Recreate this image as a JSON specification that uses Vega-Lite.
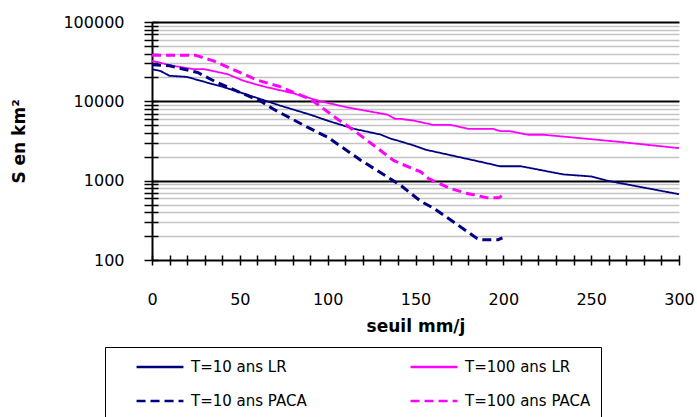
{
  "$schema": "https://vega.github.io/schema/vega-lite/v6.json",
  "width": 527,
  "height": 238,
  "autosize": {"type": "none"},
  "padding": {"left": 152, "top": 22, "right": 18, "bottom": 157},
  "background": "white",
  "data": {
    "values": [
      {"s": "T=10 ans LR", "x": 0, "y": 25500},
      {"s": "T=10 ans LR", "x": 5, "y": 24000},
      {"s": "T=10 ans LR", "x": 10, "y": 21000},
      {"s": "T=10 ans LR", "x": 20, "y": 20300},
      {"s": "T=10 ans LR", "x": 29, "y": 17800},
      {"s": "T=10 ans LR", "x": 40, "y": 15300},
      {"s": "T=10 ans LR", "x": 50, "y": 13000},
      {"s": "T=10 ans LR", "x": 60, "y": 11000},
      {"s": "T=10 ans LR", "x": 73, "y": 8830},
      {"s": "T=10 ans LR", "x": 90, "y": 6800},
      {"s": "T=10 ans LR", "x": 100, "y": 5700},
      {"s": "T=10 ans LR", "x": 115, "y": 4500},
      {"s": "T=10 ans LR", "x": 130, "y": 3820},
      {"s": "T=10 ans LR", "x": 136, "y": 3380},
      {"s": "T=10 ans LR", "x": 141.5, "y": 3120},
      {"s": "T=10 ans LR", "x": 149, "y": 2780},
      {"s": "T=10 ans LR", "x": 156, "y": 2450},
      {"s": "T=10 ans LR", "x": 189, "y": 1690},
      {"s": "T=10 ans LR", "x": 198, "y": 1520},
      {"s": "T=10 ans LR", "x": 210, "y": 1520},
      {"s": "T=10 ans LR", "x": 234, "y": 1200},
      {"s": "T=10 ans LR", "x": 250, "y": 1130},
      {"s": "T=10 ans LR", "x": 259, "y": 1000},
      {"s": "T=10 ans LR", "x": 300, "y": 675},
      {"s": "T=100 ans LR", "x": 0, "y": 32400},
      {"s": "T=100 ans LR", "x": 12, "y": 28000},
      {"s": "T=100 ans LR", "x": 23.5, "y": 25500},
      {"s": "T=100 ans LR", "x": 29.5, "y": 25500},
      {"s": "T=100 ans LR", "x": 43, "y": 22000},
      {"s": "T=100 ans LR", "x": 52, "y": 18200},
      {"s": "T=100 ans LR", "x": 62, "y": 15700},
      {"s": "T=100 ans LR", "x": 80.5, "y": 12600},
      {"s": "T=100 ans LR", "x": 96, "y": 10000},
      {"s": "T=100 ans LR", "x": 111, "y": 8400},
      {"s": "T=100 ans LR", "x": 134, "y": 6800},
      {"s": "T=100 ans LR", "x": 138.5, "y": 6000},
      {"s": "T=100 ans LR", "x": 141.5, "y": 6000},
      {"s": "T=100 ans LR", "x": 149, "y": 5720},
      {"s": "T=100 ans LR", "x": 153, "y": 5460},
      {"s": "T=100 ans LR", "x": 160, "y": 5050},
      {"s": "T=100 ans LR", "x": 170, "y": 5050},
      {"s": "T=100 ans LR", "x": 180, "y": 4500},
      {"s": "T=100 ans LR", "x": 194, "y": 4500},
      {"s": "T=100 ans LR", "x": 198.5, "y": 4200},
      {"s": "T=100 ans LR", "x": 204, "y": 4200},
      {"s": "T=100 ans LR", "x": 214, "y": 3790},
      {"s": "T=100 ans LR", "x": 223, "y": 3790},
      {"s": "T=100 ans LR", "x": 265, "y": 3100},
      {"s": "T=100 ans LR", "x": 300, "y": 2570},
      {"s": "T=10 ans PACA", "x": 0, "y": 29000},
      {"s": "T=10 ans PACA", "x": 10, "y": 28000},
      {"s": "T=10 ans PACA", "x": 26, "y": 23100},
      {"s": "T=10 ans PACA", "x": 37, "y": 17300},
      {"s": "T=10 ans PACA", "x": 50, "y": 13000},
      {"s": "T=10 ans PACA", "x": 62, "y": 10000},
      {"s": "T=10 ans PACA", "x": 69, "y": 8000},
      {"s": "T=10 ans PACA", "x": 88.5, "y": 4720},
      {"s": "T=10 ans PACA", "x": 100, "y": 3530},
      {"s": "T=10 ans PACA", "x": 119, "y": 1800},
      {"s": "T=10 ans PACA", "x": 134, "y": 1115},
      {"s": "T=10 ans PACA", "x": 141.5, "y": 875},
      {"s": "T=10 ans PACA", "x": 153, "y": 550},
      {"s": "T=10 ans PACA", "x": 160.5, "y": 447},
      {"s": "T=10 ans PACA", "x": 171.5, "y": 303},
      {"s": "T=10 ans PACA", "x": 185, "y": 187},
      {"s": "T=10 ans PACA", "x": 187, "y": 180},
      {"s": "T=10 ans PACA", "x": 197, "y": 180},
      {"s": "T=10 ans PACA", "x": 199.5, "y": 190},
      {"s": "T=100 ans PACA", "x": 0, "y": 38200},
      {"s": "T=100 ans PACA", "x": 24.5, "y": 38200},
      {"s": "T=100 ans PACA", "x": 35, "y": 32400},
      {"s": "T=100 ans PACA", "x": 50, "y": 23100},
      {"s": "T=100 ans PACA", "x": 60, "y": 18500},
      {"s": "T=100 ans PACA", "x": 73, "y": 15300},
      {"s": "T=100 ans PACA", "x": 80.5, "y": 13000},
      {"s": "T=100 ans PACA", "x": 90, "y": 10700},
      {"s": "T=100 ans PACA", "x": 94, "y": 9270},
      {"s": "T=100 ans PACA", "x": 105.5, "y": 6000},
      {"s": "T=100 ans PACA", "x": 115, "y": 4290},
      {"s": "T=100 ans PACA", "x": 122.5, "y": 3210},
      {"s": "T=100 ans PACA", "x": 137.5, "y": 1800},
      {"s": "T=100 ans PACA", "x": 141.5, "y": 1640},
      {"s": "T=100 ans PACA", "x": 153, "y": 1290},
      {"s": "T=100 ans PACA", "x": 157.5, "y": 1060},
      {"s": "T=100 ans PACA", "x": 170, "y": 795},
      {"s": "T=100 ans PACA", "x": 179.5, "y": 690},
      {"s": "T=100 ans PACA", "x": 191, "y": 607},
      {"s": "T=100 ans PACA", "x": 197.5, "y": 607},
      {"s": "T=100 ans PACA", "x": 199.5, "y": 656}
    ]
  },
  "encoding": {
    "x": {
      "field": "x",
      "type": "quantitative",
      "scale": {"domain": [0, 300], "nice": false},
      "axis": {
        "title": "seuil mm/j",
        "values": [0,10,20,30,40,50,60,70,80,90,100,110,120,130,140,150,160,170,180,190,200,210,220,230,240,250,260,270,280,290,300],
        "labelExpr": "datum.value % 50 == 0 ? datum.label : ''",
        "offset": -5,
        "tickSize": 10,
        "labelPadding": 26,
        "titlePadding": 11,
        "grid": true,
        "gridColor": {"condition": {"test": "datum.value == 0", "value": "black"}, "value": "transparent"},
        "gridWidth": 2,
        "labelFlush": false,
        "labelOverlap": false
      }
    },
    "y": {
      "field": "y",
      "type": "quantitative",
      "scale": {"type": "log", "domain": [100, 100000], "nice": false},
      "axis": {
        "title": "S en km²",
        "values": [100,200,300,400,500,600,700,800,900,1000,2000,3000,4000,5000,6000,7000,8000,9000,10000,20000,30000,40000,50000,60000,70000,80000,90000,100000],
        "format": "d",
        "labelExpr": "(datum.value == 100 || datum.value == 1000 || datum.value == 10000 || datum.value == 100000) ? datum.label : ''",
        "offset": -6,
        "tickSize": 14,
        "labelPadding": 20,
        "titlePadding": 34,
        "grid": true,
        "gridColor": {"condition": {"test": "datum.value == 100 || datum.value == 1000 || datum.value == 10000 || datum.value == 100000", "value": "black"}, "value": "#c4c4c4"},
        "gridWidth": {"condition": {"test": "datum.value == 100 || datum.value == 1000 || datum.value == 10000 || datum.value == 100000", "value": 2}, "value": 1.6},
        "labelFlush": false,
        "labelOverlap": false
      }
    },
    "color": {
      "field": "s",
      "type": "nominal",
      "scale": {
        "domain": ["T=10 ans LR", "T=100 ans LR", "T=10 ans PACA", "T=100 ans PACA"],
        "range": ["#000080", "#ff00ff", "#000080", "#ff00ff"]
      },
      "legend": {"title": null, "values": ["T=10 ans LR", "T=10 ans PACA", "T=100 ans LR", "T=100 ans PACA"]}
    },
    "strokeDash": {
      "field": "s",
      "type": "nominal",
      "scale": {
        "domain": ["T=10 ans LR", "T=100 ans LR", "T=10 ans PACA", "T=100 ans PACA"],
        "range": [[1, 0], [1, 0], [9, 5], [9, 5]]
      },
      "legend": {"title": null, "values": ["T=10 ans LR", "T=10 ans PACA", "T=100 ans LR", "T=100 ans PACA"]}
    }
  },
  "layer": [
    {
      "transform": [{"filter": "indexof(datum.s, 'LR') >= 0"}],
      "mark": {"type": "line", "strokeWidth": 1.8, "interpolate": "linear"}
    },
    {
      "transform": [{"filter": "indexof(datum.s, 'PACA') >= 0"}],
      "mark": {"type": "line", "strokeWidth": 3, "interpolate": "linear"}
    }
  ],
  "config": {
    "view": {"stroke": null},
    "axis": {
      "labelFont": "DejaVu Sans",
      "labelFontSize": 16,
      "labelColor": "black",
      "titleFont": "DejaVu Sans",
      "titleFontSize": 17,
      "titleFontWeight": "bold",
      "titleColor": "black",
      "tickColor": "black",
      "tickWidth": 1.5,
      "domain": false
    },
    "legend": {
      "orient": "none",
      "legendX": -47,
      "legendY": 325,
      "columns": 2,
      "strokeColor": "black",
      "padding": 10,
      "symbolType": "stroke",
      "symbolSize": 2200,
      "symbolStrokeWidth": 2.5,
      "symbolOffset": 20,
      "clipHeight": 20,
      "rowPadding": 14,
      "columnPadding": 82,
      "labelFont": "DejaVu Sans",
      "labelFontSize": 15,
      "labelColor": "black",
      "labelOffset": 6,
      "labelLimit": 300
    }
  }
}
